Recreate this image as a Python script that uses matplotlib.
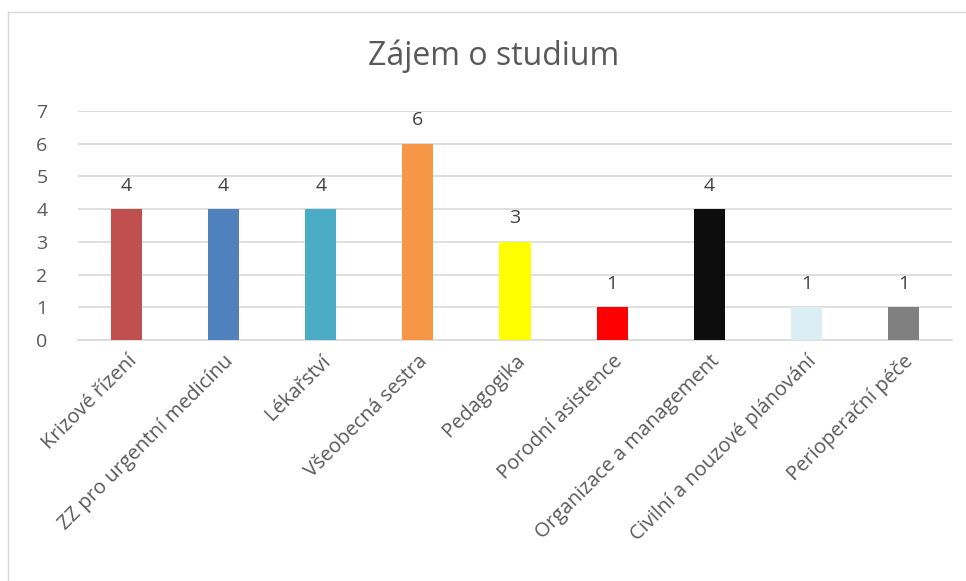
"""Bar chart: Zájem o studium."""

import matplotlib

matplotlib.use("Agg")
import matplotlib.pyplot as plt
from matplotlib.lines import Line2D

categories = [
    "Krizové řízení",
    "ZZ pro urgentní medicínu",
    "Lékařství",
    "Všeobecná sestra",
    "Pedagogika",
    "Porodní asistence",
    "Organizace a management",
    "Civilní a nouzové plánování",
    "Perioperační péče",
]
counts = [4, 4, 4, 6, 3, 1, 4, 1, 1]
bar_colors = [
    "#C0504D", "#4F81BD", "#4BACC6", "#F79646", "#FFFF00",
    "#FF0000", "#0D0D0D", "#DAEEF3", "#808080",
]
y_ticks = [0, 1, 2, 3, 4, 5, 6, 7]

TEXT = "#595959"
GRID = "#D9D9D9"

plt.rcParams["font.family"] = ["Open Sans", "DejaVu Sans"]

fig = plt.figure(figsize=(9.66, 5.81), dpi=100)
ax = fig.add_axes([0.0807, 0.4148, 0.9048, 0.3942])

x = list(range(len(categories)))
ax.bar(x, counts, width=0.32, color=bar_colors, zorder=3)
for xi, v in zip(x, counts):
    ax.annotate(str(v), (xi, v), xytext=(0, 17), textcoords="offset points",
                ha="center", va="center", fontsize=14, color="#404040")

ax.set_xlim(-0.5, len(categories) - 0.5)
ax.set_ylim(0, 7)
ax.set_yticks(y_ticks)
ax.yaxis.grid(True, color=GRID, linewidth=1.2, zorder=0)
ax.tick_params(axis="y", length=0, labelsize=14, labelcolor=TEXT, pad=22)
ax.tick_params(axis="x", length=0, labelsize=14.5, labelcolor=TEXT, pad=8)
ax.set_xticks(x)
ax.set_xticklabels(categories, rotation=45, ha="right", rotation_mode="anchor")
for side in ("top", "right", "left"):
    ax.spines[side].set_visible(False)
ax.spines["bottom"].set_color(GRID)
ax.spines["bottom"].set_linewidth(1.2)

fig.text(0.511, 0.903, "Zájem o studium", ha="center", va="center",
         fontsize=23, color=TEXT)

# chart area border (left and top edges visible)
fig.add_artist(Line2D([8 / 966, 8 / 966], [0, 1 - 12 / 581],
                      transform=fig.transFigure, color=GRID, linewidth=1))
fig.add_artist(Line2D([8 / 966, 1], [1 - 12 / 581, 1 - 12 / 581],
                      transform=fig.transFigure, color=GRID, linewidth=1))

fig.savefig("out.png", dpi=100)
